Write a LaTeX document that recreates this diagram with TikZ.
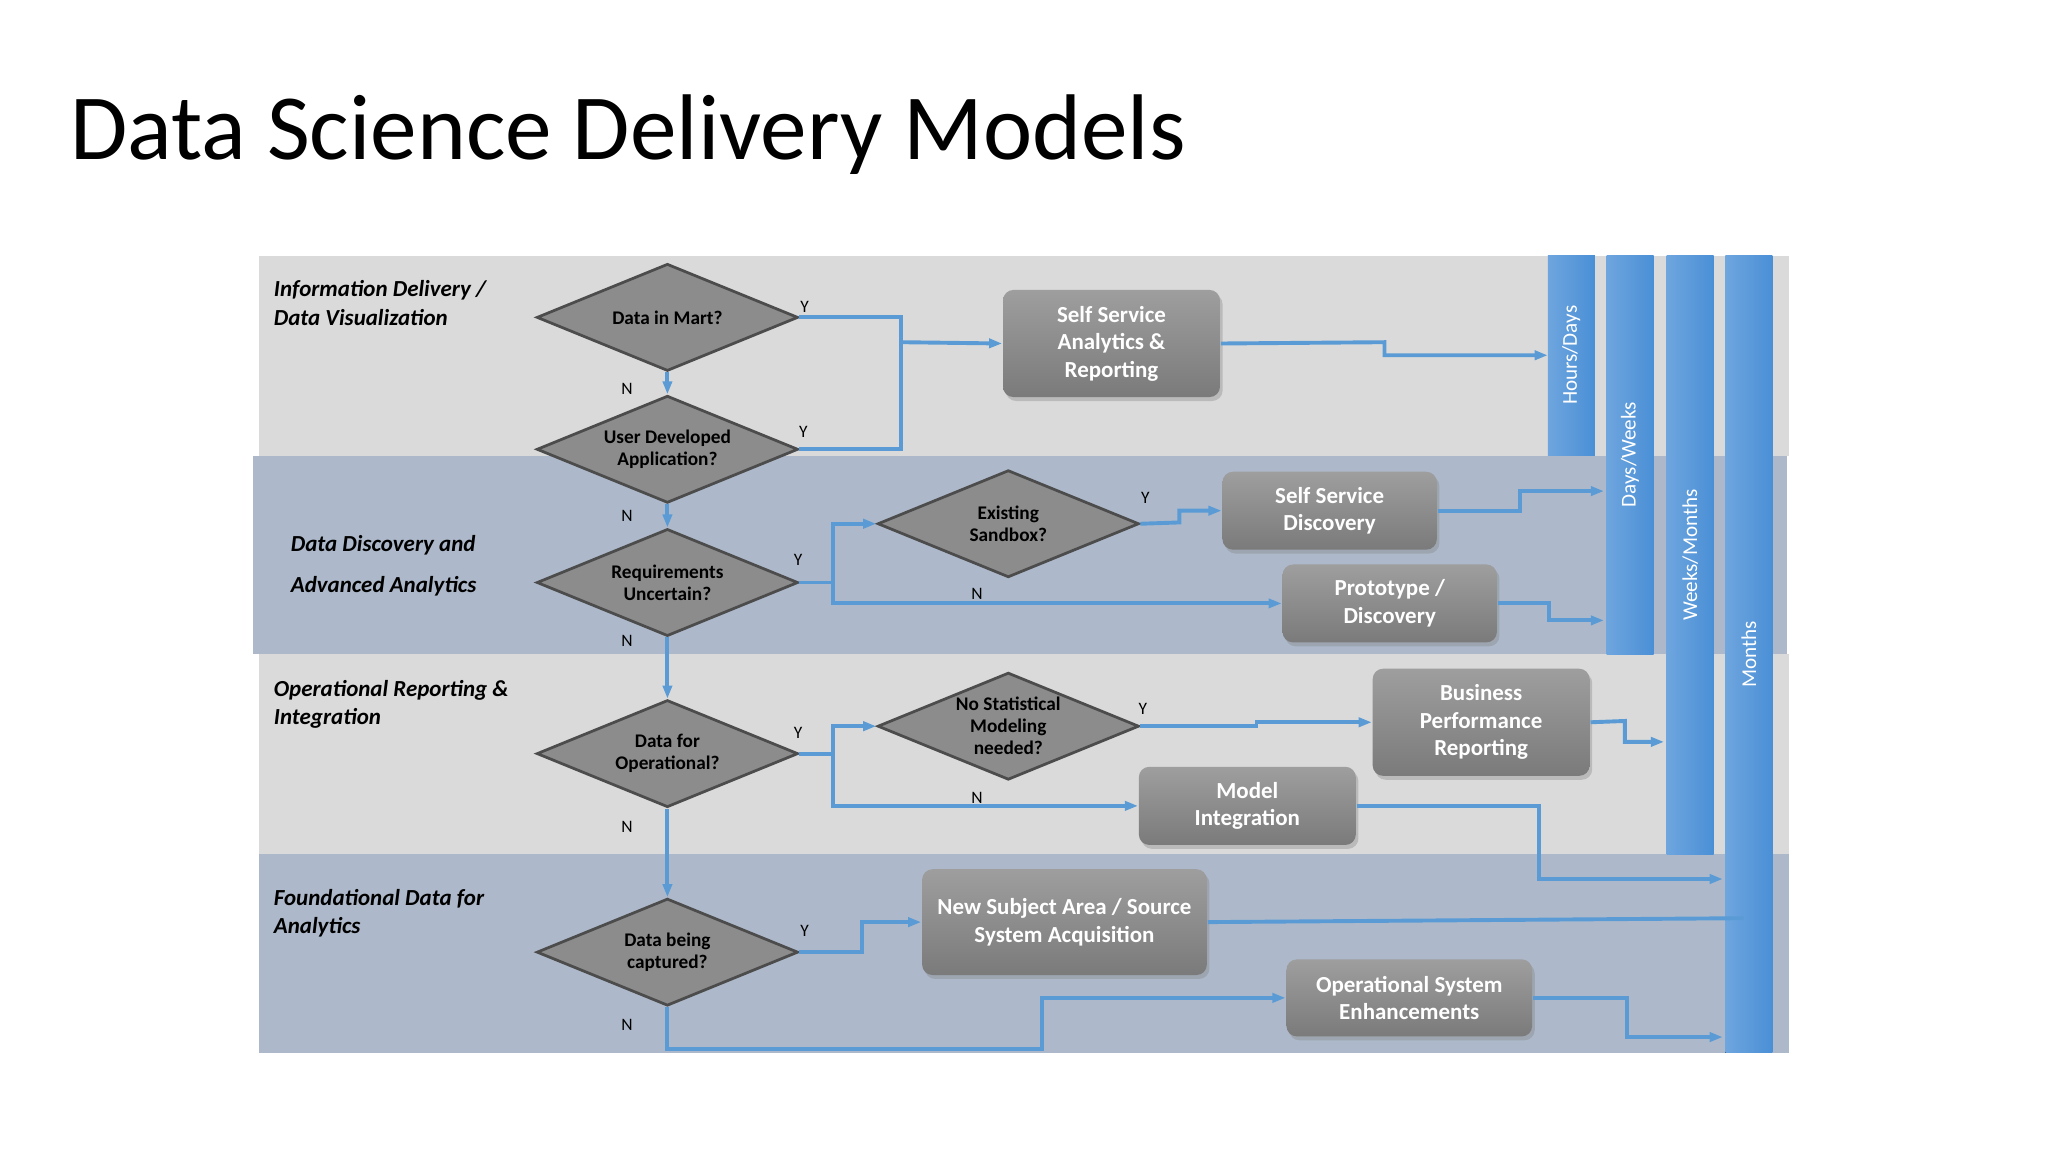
\documentclass[tikz,border=0pt]{standalone}
\usepackage{fontspec}
\setmainfont{Carlito}
\usetikzlibrary{shapes.geometric,shadows,arrows.meta}

\definecolor{bandgray}{HTML}{DADADA}
\definecolor{bandblue}{HTML}{ADB9CA}
\definecolor{flow}{HTML}{5B9BD5}
\definecolor{bar}{HTML}{4A8FD6}

\tikzset{
  decision/.style={diamond, draw=black!70, fill=black!45, line width=0.6pt,
    minimum width=2cm, minimum height=0.82cm, inner sep=0pt,
    label={[align=center, font=\fontsize{4.2}{4.8}\selectfont\bfseries]center:#1}},
  outcome/.style={rectangle, rounded corners=0.08cm, top color=black!38, bottom color=black!52,
    draw=none, drop shadow={opacity=0.35,shadow xshift=0.02cm,shadow yshift=-0.03cm},
    align=center, text=white, font=\fontsize{5}{6}\selectfont\bfseries},
  band/.style={font=\fontsize{5}{6.2}\selectfont\bfseries\itshape, anchor=north west, align=left, inner sep=0pt},
  yn/.style={font=\fontsize{3.8}{4}\selectfont},
  link/.style={draw=flow, line width=0.85pt},
  arr/.style={link, -{Triangle[length=0.1cm,width=0.07cm]}},
  timebar/.style={left color=bar!80, right color=bar, draw=none},
  barlabel/.style={rotate=90, text=white, font=\fontsize{4.6}{5}\selectfont}
}

\begin{document}
\begin{tikzpicture}[x=0.01cm,y=-0.01cm]
  \useasboundingbox[fill=white] (0,0) rectangle (1568,882);

  % title
  \node[anchor=base west, inner sep=0pt, font=\fontsize{20.3}{24}\selectfont] (title) at (53,122) {Data Science Delivery Models};

  % swim lanes
  \fill[bandgray] (198,196) rectangle (1370,349);
  \fill[bandblue] (194,349) rectangle (1368,501);
  \fill[bandgray] (198,501) rectangle (1370,654);
  \fill[bandblue] (198,654) rectangle (1370,806);

  \node[band] (l1) at (209,214) {Information Delivery /\\Data Visualization};
  \node[band, font=\fontsize{5}{9}\selectfont\bfseries\itshape] (l2) at (222,409) {Data Discovery and\\Advanced Analytics};
  \node[band] (l3) at (209,520) {Operational Reporting \&\\Integration};
  \node[band] (l4) at (209,680) {Foundational Data for\\Analytics};

  % time bars
  \fill[timebar] (1185,196) rectangle (1221,349);
  \fill[timebar] (1230,196) rectangle (1266,501);
  \fill[timebar] (1276,196) rectangle (1312,654);
  \fill[timebar] (1321,196) rectangle (1357,806);
  \node[barlabel] (hd) at (1203,272) {Hours/Days};
  \node[barlabel] (dw) at (1248,348) {Days/Weeks};
  \node[barlabel] (wm) at (1294,425) {Weeks/Months};
  \node[barlabel] (mo) at (1339,501) {Months};

  % decisions
  \node[decision={Data in Mart?}] (d1) at (511,243) {};
  \node[decision={User Developed\\Application?}] (d2) at (511,344) {};
  \node[decision={Requirements\\Uncertain?}] (d3) at (511,446) {};
  \node[decision={Data for\\Operational?}] (d4) at (511,577) {};
  \node[decision={Data being\\captured?}] (d5) at (511,729) {};
  \node[decision={Existing\\Sandbox?}] (sb) at (772,401) {};
  \node[decision={No Statistical\\Modeling\\needed?}] (nsm) at (772,556) {};

  % outcomes
  \node[outcome, minimum width=1.66cm, minimum height=0.82cm] (ssar) at (851,263) {Self Service\\Analytics \&\\Reporting};
  \node[outcome, minimum width=1.64cm, minimum height=0.58cm] (ssd) at (1018,391) {Self Service\\Discovery};
  \node[outcome, minimum width=1.64cm, minimum height=0.59cm] (proto) at (1064,462) {Prototype /\\Discovery};
  \node[outcome, minimum width=1.66cm, minimum height=0.82cm] (bpr) at (1134,553) {Business\\Performance\\Reporting};
  \node[outcome, minimum width=1.66cm, minimum height=0.58cm] (mint) at (955,617) {Model\\Integration};
  \node[outcome, minimum width=2.12cm, minimum height=0.81cm] (nsa) at (815,706) {New Subject Area / Source\\System Acquisition};
  \node[outcome, minimum width=1.88cm, minimum height=0.59cm] (ose) at (1079,764) {Operational System\\Enhancements};

  % bar targets
  \coordinate (t1) at (1185,272);
  \coordinate (t2) at (1228,376);
  \coordinate (t3) at (1228,475);
  \coordinate (t4) at (1274,568);
  \coordinate (t5) at (1319,673);
  \coordinate (t6) at (1335,703);
  \coordinate (t7) at (1319,794);

  % main spine
  \draw[arr] (d1) -- (d2);
  \draw[arr] (d2) -- (d3);
  \draw[arr] (d3) -- (d4);
  \draw[arr] (d4) -- (d5);

  % yes branches
  \draw[link] (d1.east) -| (690,262);
  \draw[link] (d2.east) -| (690,262);
  \draw[arr] (690,262) -- (ssar.west);
  \draw[arr] (ssar.east) -- (1060,262) |- (t1);

  \draw[arr] (d3.east) -- (638,446) |- (sb.west);
  \draw[arr] (638,446) |- (proto.west);
  \draw[arr] (sb.east) -- (903,400) |- (ssd.west);
  \draw[arr] (ssd.east) -- (1164,391) |- (t2);
  \draw[arr] (proto.east) -- (1186,462) |- (t3);

  \draw[arr] (d4.east) -- (638,577) |- (nsm.west);
  \draw[arr] (638,577) |- (mint.west);
  \draw[arr] (nsm.east) -- (962,556) |- (bpr.west);
  \draw[arr] (bpr.east) -- (1244,552) |- (t4);
  \draw[arr] (mint.east) -- (1178,617) |- (t5);

  \draw[arr] (d5.east) -- (660,729) |- (nsa.west);
  \draw[link] (nsa.east) -- (t6);
  \draw[arr] (d5.south) |- (798,803) |- (ose.west);
  \draw[arr] (ose.east) -- (1246,764) |- (t7);

  % Y / N labels
  \node[yn] (y1) at (616,235) {Y};
  \node[yn] (n1) at (480,298) {N};
  \node[yn] (y2) at (615,331) {Y};
  \node[yn] (n2) at (480,395) {N};
  \node[yn] (y3) at (611,429) {Y};
  \node[yn] (n3) at (480,491) {N};
  \node[yn] (y4) at (611,561) {Y};
  \node[yn] (n4) at (480,633) {N};
  \node[yn] (y5) at (616,713) {Y};
  \node[yn] (n5) at (480,785) {N};
  \node[yn] (y6) at (877,381) {Y};
  \node[yn] (n6) at (748,455) {N};
  \node[yn] (y7) at (875,543) {Y};
  \node[yn] (n7) at (748,611) {N};
\end{tikzpicture}
\end{document}
